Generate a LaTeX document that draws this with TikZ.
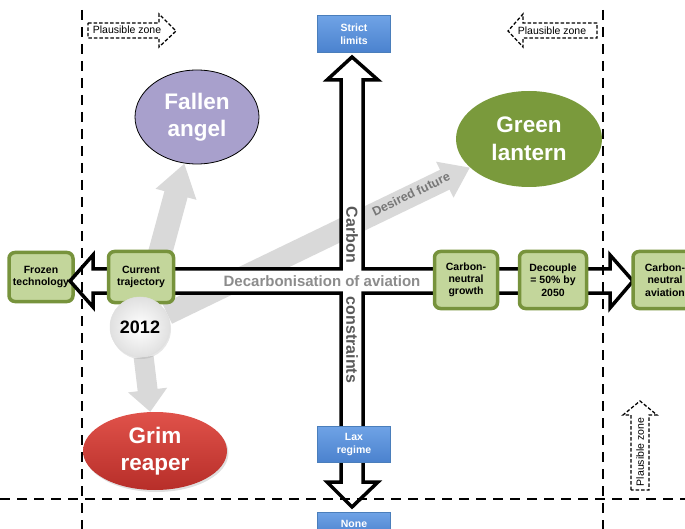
\documentclass[tikz,border=0pt]{standalone}
\usepackage{fontspec}
\setmainfont{Liberation Sans}
\usetikzlibrary{arrows.meta,shapes.geometric,shadows,backgrounds}
\definecolor{gfill}{HTML}{C3D69B}
\definecolor{gdraw}{HTML}{77933C}
\definecolor{lantern}{HTML}{7A9A3C}
\definecolor{lavender}{HTML}{A8A0CC}
\definecolor{redtop}{HTML}{E0524A}
\definecolor{redbot}{HTML}{B72E29}
\definecolor{bluetop}{HTML}{6FA3E6}
\definecolor{bluebot}{HTML}{4B82CE}
\definecolor{bluedraw}{HTML}{4A7EBB}
\definecolor{band}{HTML}{D9D9D9}
\definecolor{lbltxt}{HTML}{8C8C8C}
\definecolor{darktxt}{HTML}{595959}
\begin{document}
\begin{tikzpicture}[x=1pt,y=-1pt,
  gbox/.style={rectangle, rounded corners=6pt, fill=gfill, draw=gdraw, line width=3.5pt,
    inner sep=0pt, align=center, text=black, font=\fontsize{10.5}{12.3}\selectfont\bfseries},
  bbox/.style={rectangle, top color=bluetop, bottom color=bluebot, draw=bluedraw, line width=0.6pt,
    minimum width=73pt, minimum height=37pt, inner sep=0pt, align=center, text=white,
    font=\fontsize{10.5}{13}\selectfont\bfseries},
  ell/.style={ellipse, inner sep=0pt, align=center, text=white,
    font=\fontsize{22.5}{27.5}\selectfont\bfseries},
  garrow/.style={draw=band, line cap=butt},
  zonedash/.style={draw=black, line width=1.3pt, dash pattern=on 3.5pt off 2pt},
  zonetxt/.style={font=\fontsize{10.5}{12}\selectfont, inner sep=0pt},
  bigdash/.style={draw=black, line width=2pt, dash pattern=on 10pt off 7pt}
]
\useasboundingbox (0,0) rectangle (685,529);

% left node under the cross
\node[gbox, minimum width=64pt, minimum height=49pt] (frozen) at (41,277) {Frozen\\technology};

% the cross (double arrows)
\draw[fill=white, line width=3.5pt, line join=miter]
  (352,57) -- (378,80) -- (363,80) -- (363,269) -- (610,269) -- (610,255) -- (633,281)
  -- (610,308) -- (610,293) -- (363,293) -- (363,482) -- (378,482) -- (352,507)
  -- (327,482) -- (341,482) -- (341,293) -- (93,293) -- (93,307) -- (70,281)
  -- (93,255) -- (93,269) -- (341,269) -- (341,80) -- (327,80) -- cycle;

\node[font=\fontsize{15}{17}\selectfont\bfseries, text=lbltxt, inner sep=0pt] (decarb) at (322,281) {Decarbonisation of aviation};
\node[font=\fontsize{16}{18}\selectfont\bfseries, text=darktxt, inner sep=0pt, rotate=-90] (carbon) at (352,235) {Carbon};
\node[font=\fontsize{16}{18}\selectfont\bfseries, text=darktxt, inner sep=0pt, rotate=-90] (constr) at (352,340) {constraints};

% green boxes
\node[gbox, minimum width=65pt, minimum height=51pt] (current) at (141,277) {Current\\trajectory};
\node[gbox, minimum width=63pt, minimum height=57pt] (cng) at (466,280) {Carbon-\\neutral\\growth};
\node[gbox, minimum width=67pt, minimum height=57pt] (decouple) at (553,280) {Decouple\\= 50\% by\\2050};
\node[gbox, minimum width=64pt, minimum height=57pt] (cna) at (665,280) {Carbon-\\neutral\\aviation};

% blue boxes
\node[bbox] (strict) at (354,34) {Strict\\limits};
\node[bbox, minimum height=36pt] (lax) at (354,444) {Lax\\regime};
\node[bbox, minimum height=24pt] (none) at (354,524) {None};

% ellipses
\node[ell, fill=lavender, draw=black, line width=0.8pt, minimum width=124pt, minimum height=94pt] (fallen) at (197,117) {Fallen\\angel};
\node[ell, fill=lantern, minimum width=146pt, minimum height=96pt] (lantern) at (529,139) {Green\\lantern};
\node[ell, top color=redtop, bottom color=redbot, minimum width=144pt, minimum height=78pt,
  drop shadow={opacity=0.25, shadow xshift=1.5pt, shadow yshift=-2pt}] (grim) at (155,451) {Grim\\reaper};

% 2012 circle
\node[circle, minimum size=60pt, inner sep=0pt, inner color=white, outer color=black!12,
  draw=black!12, line width=0.5pt, drop shadow={opacity=0.2, shadow xshift=1pt, shadow yshift=-2pt},
  font=\fontsize{18}{20}\selectfont\bfseries] (y2012) at (140,327) {2012};

% grey trend arrows behind everything
\begin{scope}[on background layer]
  \draw[garrow, line width=24pt, -{Triangle[width=40pt,length=32pt]}] (y2012) -- (fallen);
  \draw[garrow, line width=22pt, -{Triangle[width=38pt,length=28pt]}] (y2012) -- (lantern);
  \draw[garrow, line width=20pt, -{Triangle[width=38pt,length=22pt]}] (y2012) -- (grim);
\end{scope}
\node[font=\fontsize{12.5}{14}\selectfont\bfseries, text=lbltxt!85!black, inner sep=0pt, rotate=25.8] (desired) at (411,194) {Desired future};

% plausible zone markers
\node[zonetxt] (pz1) at (127,30) {Plausible zone};
\draw[zonedash] (88,23) -- (159,23) -- (159,14) -- (176,31) -- (159,47) -- (159,38) -- (88,38) -- cycle;
\node[zonetxt] (pz2) at (552,31) {Plausible zone};
\draw[zonedash] (597,23) -- (523,23) -- (523,14) -- (508,31) -- (523,47) -- (523,38) -- (597,38) -- cycle;
\node[zonetxt, rotate=90] (pz3) at (640,452) {Plausible zone};
\draw[zonedash] (631,490) -- (631,415) -- (623,415) -- (640,401) -- (657,415) -- (649,415) -- (649,490) -- cycle;

% zone boundaries
\coordinate (lt) at (82,10);  \coordinate (lb) at (82,529);
\coordinate (rt) at (603,10); \coordinate (rb) at (603,529);
\coordinate (hl) at (0,499);  \coordinate (hr) at (685,499);
\draw[bigdash] (lt) -- (lb);
\draw[bigdash] (rt) -- (rb);
\draw[bigdash] (hl) -- (hr);
\end{tikzpicture}
\end{document}
